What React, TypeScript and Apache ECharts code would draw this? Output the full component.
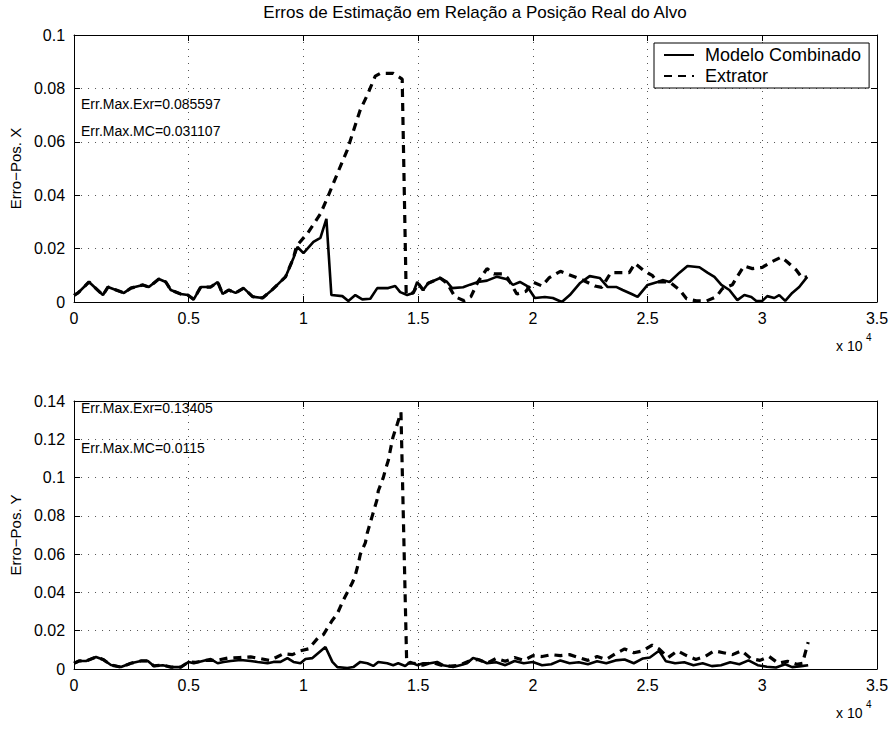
import React, { useEffect, useRef } from "react";
import * as echarts from "echarts";

const TITLE = "Erros de Estimação em Relação a Posição Real do Alvo";
const SERIES_NAMES = ["Modelo Combinado", "Extrator"];
const Y_NAMES = ["Erro−Pos. X", "Erro−Pos. Y"];
const TOP_NOTES = ["Err.Max.Exr=0.085597", "Err.Max.MC=0.031107"];
const BOTTOM_NOTES = ["Err.Max.Exr=0.13405", "Err.Max.MC=0.0115"];
const X_MAX = 35000;
const X_STEP = 5000;
const TOP_Y_MAX = 0.1;
const BOTTOM_Y_MAX = 0.14;
const Y_STEP = 0.02;

// top plot: Modelo Combinado (solid)
const topMC: [number, number][] = [
  [0, 0.0025], [174, 0.0034], [652, 0.0075], [1261, 0.0026], [1478, 0.0056], [2174, 0.0034],
  [2478, 0.0052], [3000, 0.0064], [3261, 0.0056], [3696, 0.0086], [4000, 0.0075], [4217, 0.0045],
  [4652, 0.003], [4957, 0.0026], [5217, 0.001], [5522, 0.0056], [5957, 0.0056], [6261, 0.0075],
  [6478, 0.003], [6739, 0.0045], [7043, 0.0034], [7391, 0.0052], [7783, 0.002], [8217, 0.0015],
  [8565, 0.004], [9217, 0.0094], [9565, 0.0165], [9739, 0.0206], [10000, 0.0183], [10435, 0.0225],
  [10739, 0.024], [11000, 0.031107], [11217, 0.0026], [11696, 0.0022], [11957, 0.0004], [12261, 0.0026],
  [12565, 0.001], [12913, 0.0012], [13217, 0.0052], [13696, 0.0052], [14000, 0.006], [14217, 0.0037],
  [14522, 0.0026], [14783, 0.0034], [14957, 0.0075], [15217, 0.0045], [15435, 0.007], [15957, 0.009],
  [16261, 0.0075], [16478, 0.0052], [16957, 0.0055], [17261, 0.0065], [17609, 0.0075], [18000, 0.008],
  [18435, 0.0095], [18870, 0.0085], [19130, 0.0064], [19435, 0.0075], [19739, 0.006], [20087, 0.0015],
  [20522, 0.0019], [20870, 0.0015], [21261, 0.0], [21609, 0.0026], [22043, 0.007], [22478, 0.0097],
  [22913, 0.009], [23261, 0.0056], [23652, 0.0056], [23913, 0.0045], [24304, 0.003], [24565, 0.0019],
  [25000, 0.0064], [25435, 0.0075], [25652, 0.0082], [25957, 0.0075], [26391, 0.011], [26739, 0.0135],
  [27261, 0.013], [27609, 0.011], [27913, 0.0094], [28217, 0.0064], [28565, 0.0045], [28913, 0.0007],
  [29217, 0.0026], [29522, 0.0019], [29739, 0.0004], [30000, 0.0004], [30217, 0.0022], [30522, 0.0015],
  [30739, 0.0026], [31000, 0.0004], [31304, 0.0034], [31609, 0.0056], [31957, 0.0094],
];

// top plot: Extrator (dashed)
const topEX: [number, number][] = [
  [0, 0.0025], [174, 0.0034], [652, 0.0075], [1261, 0.0026], [1478, 0.0056], [2174, 0.0034],
  [2478, 0.0052], [3000, 0.0064], [3261, 0.0056], [3696, 0.0086], [4000, 0.0075], [4217, 0.0045],
  [4652, 0.003], [4957, 0.0026], [5217, 0.001], [5522, 0.0056], [5957, 0.0056], [6261, 0.0075],
  [6478, 0.003], [6739, 0.0045], [7043, 0.0034], [7391, 0.0052], [7783, 0.002], [8217, 0.0015],
  [8565, 0.004], [9217, 0.0094], [9565, 0.0165], [9700, 0.021], [10200, 0.026], [10739, 0.033],
  [11043, 0.039], [11522, 0.049], [11913, 0.057], [12174, 0.064], [12478, 0.072], [12783, 0.0775],
  [13130, 0.0846], [13348, 0.085597], [13913, 0.0856], [14304, 0.0835], [14478, 0.003], [14783, 0.0034],
  [15000, 0.007], [15217, 0.0045], [15435, 0.007], [15957, 0.009], [16261, 0.007], [16600, 0.002],
  [17000, 0.0005], [17300, 0.002], [17600, 0.0075], [18000, 0.0125], [18300, 0.0105], [18700, 0.0105],
  [18900, 0.009], [19300, 0.003], [19700, 0.004], [20000, 0.0075], [20400, 0.006], [20700, 0.009],
  [21200, 0.0115], [21500, 0.0105], [22100, 0.0085], [22700, 0.006], [23000, 0.0055], [23400, 0.011],
  [23700, 0.011], [24200, 0.011], [24450, 0.0145], [24870, 0.0115], [25200, 0.01], [25435, 0.0075],
  [25957, 0.0075], [26400, 0.0045], [26700, 0.0012], [27130, 0.0004], [27570, 0.0004], [28000, 0.002],
  [28260, 0.005], [28700, 0.0065], [28900, 0.0094], [29200, 0.0135], [29570, 0.0125], [30000, 0.013],
  [30400, 0.015], [30830, 0.0168], [31090, 0.015], [31480, 0.012], [31740, 0.009], [31957, 0.0094],
];

// bottom plot: Modelo Combinado (solid)
const botMC: [number, number][] = [
  [0, 0.003], [217, 0.0042], [522, 0.0042], [957, 0.0063], [1261, 0.005], [1609, 0.0021],
  [2043, 0.001], [2478, 0.003], [2913, 0.0042], [3217, 0.0042], [3478, 0.0016], [3870, 0.002],
  [4217, 0.001], [4652, 0.001], [5000, 0.0037], [5217, 0.003], [5609, 0.0042], [5957, 0.0052],
  [6261, 0.003], [6522, 0.0037], [6826, 0.0042], [7261, 0.0047], [7696, 0.0042], [8000, 0.0037],
  [8435, 0.003], [8696, 0.0037], [9000, 0.0037], [9300, 0.0057], [9565, 0.0037], [9870, 0.003],
  [10087, 0.0052], [10391, 0.0057], [10957, 0.0115], [11261, 0.0037], [11478, 0.001], [11913, 0.0005],
  [12174, 0.001], [12478, 0.0037], [12783, 0.003], [13043, 0.0016], [13261, 0.0037], [13652, 0.003],
  [13913, 0.002], [14130, 0.003], [14435, 0.0016], [14652, 0.0037], [14957, 0.002], [15217, 0.003],
  [15522, 0.003], [15826, 0.0037], [16087, 0.002], [16522, 0.001], [16826, 0.002], [17130, 0.003],
  [17391, 0.0057], [17696, 0.0047], [18000, 0.003], [18400, 0.0035], [18800, 0.002], [19200, 0.0042],
  [19600, 0.003], [20000, 0.0037], [20400, 0.002], [20800, 0.0025], [21200, 0.0045], [21600, 0.003],
  [22000, 0.0035], [22400, 0.0025], [22800, 0.004], [23200, 0.003], [23600, 0.0045], [24000, 0.005],
  [24400, 0.003], [24800, 0.0055], [25100, 0.006], [25500, 0.0095], [25800, 0.004], [26200, 0.003],
  [26600, 0.0035], [27000, 0.002], [27400, 0.003], [27800, 0.0015], [28200, 0.002], [28600, 0.0035],
  [29000, 0.0025], [29400, 0.0045], [29800, 0.002], [30200, 0.0012], [30600, 0.0008], [31000, 0.0025],
  [31300, 0.001], [31700, 0.0015], [32000, 0.002],
];

// bottom plot: Extrator (dashed)
const botEX: [number, number][] = [
  [0, 0.003], [217, 0.0042], [522, 0.0042], [957, 0.0063], [1261, 0.005], [1609, 0.0021],
  [2043, 0.001], [2478, 0.003], [2913, 0.0042], [3217, 0.0042], [3478, 0.0016], [3870, 0.002],
  [4217, 0.001], [4652, 0.001], [5000, 0.0037], [5300, 0.0035], [5700, 0.0045], [6200, 0.0045],
  [6700, 0.0057], [7200, 0.006], [7700, 0.0063], [8100, 0.0055], [8500, 0.0045], [8800, 0.006],
  [9130, 0.008], [9520, 0.0075], [9870, 0.0095], [10220, 0.0105], [10650, 0.0165], [10870, 0.018],
  [11260, 0.0255], [11480, 0.029], [11740, 0.036], [11910, 0.04], [12130, 0.045], [12260, 0.049],
  [12390, 0.055], [12480, 0.06], [12700, 0.066], [12780, 0.071], [13000, 0.08], [13220, 0.089],
  [13260, 0.093], [13480, 0.1], [13570, 0.104], [13700, 0.109], [13780, 0.114], [13900, 0.121],
  [14090, 0.128], [14250, 0.13405], [14500, 0.003], [14800, 0.003], [15200, 0.002], [15600, 0.0035],
  [16000, 0.002], [16400, 0.0015], [16800, 0.002], [17200, 0.004], [17600, 0.005], [18000, 0.003],
  [18400, 0.0055], [18800, 0.004], [19200, 0.006], [19600, 0.0045], [20000, 0.007], [20400, 0.0065],
  [20800, 0.0075], [21200, 0.007], [21600, 0.0075], [22000, 0.006], [22400, 0.0045], [22800, 0.0065],
  [23200, 0.005], [23600, 0.008], [24000, 0.0105], [24400, 0.0085], [24800, 0.0095], [25200, 0.0125],
  [25500, 0.0105], [25900, 0.006], [26300, 0.0095], [26700, 0.007], [27100, 0.005], [27500, 0.0065],
  [27900, 0.0095], [28300, 0.0085], [28700, 0.0075], [29100, 0.0095], [29500, 0.0055], [29900, 0.0045],
  [30300, 0.0065], [30700, 0.003], [31100, 0.004], [31500, 0.0025], [31750, 0.003], [32000, 0.014],
];

const FONT = "'Liberation Sans', Arial, Helvetica, sans-serif";
const GRID_LINE = { color: "#555", width: 1, type: [1, 6] };

function xAxes(gridIndex: number) {
  const base = {
    gridIndex,
    type: "value" as const,
    min: 0,
    max: X_MAX,
    interval: X_STEP,
    axisLine: { show: true, onZero: false, lineStyle: { color: "#000", width: 1 } },
    axisTick: { show: true, inside: true, length: 6, lineStyle: { color: "#000" } },
  };
  return [
    {
      ...base,
      position: "bottom",
      axisLabel: {
        color: "#000",
        fontSize: 16,
        fontFamily: FONT,
        margin: 8,
        formatter: (v: number) => String(v / 10000),
      },
      splitLine: { show: true, lineStyle: GRID_LINE },
    },
    {
      ...base,
      position: "top",
      axisLabel: { show: false },
      splitLine: { show: false },
    },
  ];
}

function yAxes(gridIndex: number, max: number, name: string) {
  const base = {
    gridIndex,
    type: "value" as const,
    min: 0,
    max,
    interval: Y_STEP,
    axisLine: { show: true, onZero: false, lineStyle: { color: "#000", width: 1 } },
    axisTick: { show: true, inside: true, length: 6, lineStyle: { color: "#000" } },
  };
  return [
    {
      ...base,
      position: "left",
      name,
      nameLocation: "middle",
      nameGap: 38,
      nameTextStyle: { color: "#000", fontSize: 15, fontFamily: FONT },
      axisLabel: {
        color: "#000",
        fontSize: 16,
        fontFamily: FONT,
        margin: 9,
        formatter: (v: number) => String(Number(v.toFixed(2))),
      },
      splitLine: { show: true, lineStyle: GRID_LINE },
    },
    {
      ...base,
      position: "right",
      axisLabel: { show: false },
      splitLine: { show: false },
    },
  ];
}

function lineSeries(name: string, data: [number, number][], axis: number, dashed: boolean) {
  return {
    name,
    type: "line",
    xAxisIndex: axis,
    yAxisIndex: axis,
    data,
    showSymbol: false,
    symbol: "none",
    itemStyle: { color: "#000" },
    lineStyle: dashed
      ? { color: "#000", width: 3.2, type: [8, 6] }
      : { color: "#000", width: 2.6, type: "solid" },
    z: dashed ? 4 : 3,
  };
}

export default function App() {
  const ref = useRef<HTMLDivElement>(null);
  useEffect(() => {
    if (!ref.current) return;
    const chart = echarts.init(ref.current, undefined, { renderer: "svg" });
    const noteStyle = { fill: "#000", fontSize: 14, fontFamily: FONT };
    chart.setOption({
      animation: false,
      backgroundColor: "#fff",
      grid: [
        { left: 73, top: 35, width: 804, height: 267 },
        { left: 73, top: 401, width: 804, height: 268 },
      ],
      xAxis: [...xAxes(0), ...xAxes(1)],
      yAxis: [...yAxes(0, TOP_Y_MAX, Y_NAMES[0]), ...yAxes(1, BOTTOM_Y_MAX, Y_NAMES[1])],
      legend: {
        data: SERIES_NAMES,
        orient: "vertical",
        left: 654,
        top: 43,
        selectedMode: false,
        itemWidth: 30,
        itemHeight: 10,
        itemGap: 3,
        padding: [3, 8, 3, 9],
        borderColor: "#000",
        borderWidth: 1,
        backgroundColor: "#fff",
        itemStyle: { opacity: 0 },
        textStyle: { color: "#000", fontSize: 18, fontFamily: FONT, padding: [0, 0, 0, 6] },
      },
      series: [
        lineSeries(SERIES_NAMES[0], topMC, 0, false),
        lineSeries(SERIES_NAMES[1], topEX, 0, true),
        lineSeries(SERIES_NAMES[0], botMC, 2, false),
        lineSeries(SERIES_NAMES[1], botEX, 2, true),
      ],
      graphic: [
        {
          type: "text",
          x: 475,
          y: 12,
          style: { text: TITLE, fill: "#000", fontSize: 17, fontFamily: FONT, textAlign: "center", textVerticalAlign: "middle" },
        },
        { type: "text", x: 81, y: 104, style: { ...noteStyle, text: TOP_NOTES[0], textVerticalAlign: "middle" } },
        { type: "text", x: 81, y: 131, style: { ...noteStyle, text: TOP_NOTES[1], textVerticalAlign: "middle" } },
        { type: "text", x: 81, y: 408, style: { ...noteStyle, text: BOTTOM_NOTES[0], textVerticalAlign: "middle" } },
        { type: "text", x: 81, y: 448, style: { ...noteStyle, text: BOTTOM_NOTES[1], textVerticalAlign: "middle" } },
        { type: "text", x: 836, y: 346, style: { text: "x 10", fill: "#000", fontSize: 14, fontFamily: FONT, textVerticalAlign: "middle" } },
        { type: "text", x: 866, y: 337, style: { text: "4", fill: "#000", fontSize: 10, fontFamily: FONT, textVerticalAlign: "middle" } },
        { type: "text", x: 836, y: 713, style: { text: "x 10", fill: "#000", fontSize: 14, fontFamily: FONT, textVerticalAlign: "middle" } },
        { type: "text", x: 866, y: 704, style: { text: "4", fill: "#000", fontSize: 10, fontFamily: FONT, textVerticalAlign: "middle" } },
      ],
    });
    return () => chart.dispose();
  }, []);
  return (
    <div
      ref={ref}
      style={{ position: "fixed", left: 0, top: 0, width: 894, height: 729, background: "#fff" }}
    />
  );
}
